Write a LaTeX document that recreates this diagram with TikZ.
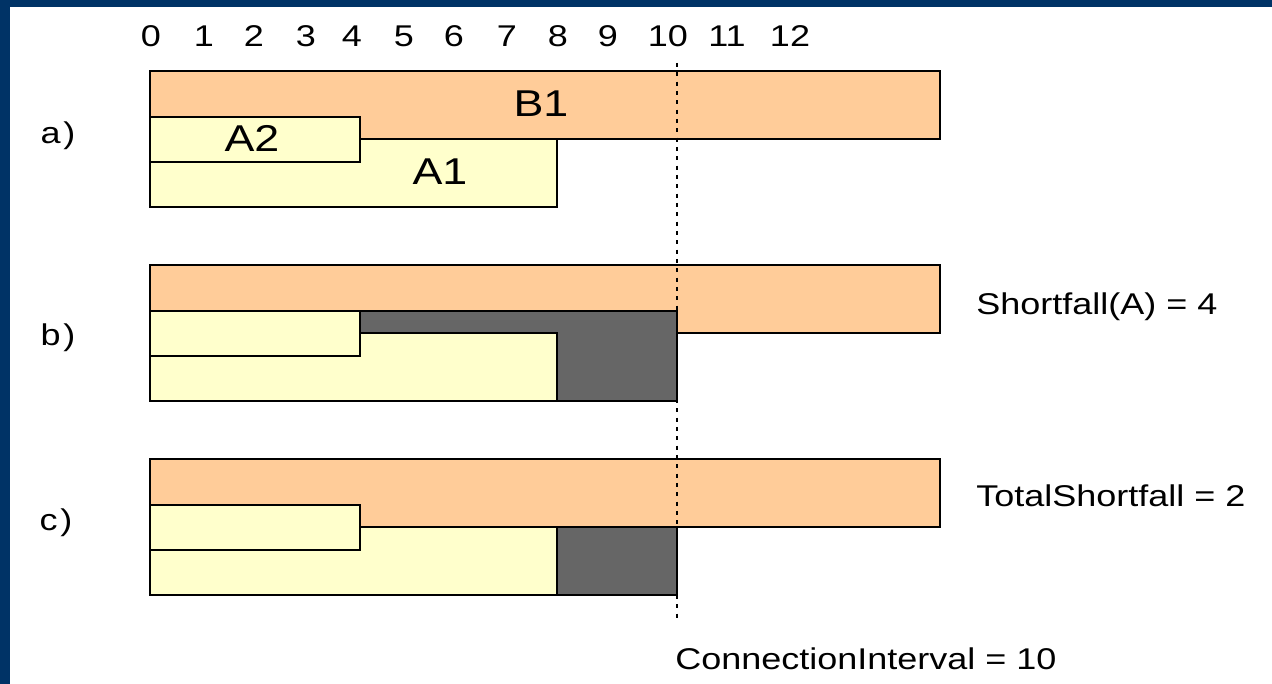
\documentclass[tikz,border=0pt]{standalone}
\usepackage{fontspec}
\setmainfont{Liberation Sans}[FakeStretch=1.2]
\definecolor{navyband}{RGB}{0,51,102}
\definecolor{peachfill}{RGB}{255,204,153}
\definecolor{creamfill}{RGB}{255,255,204}
\definecolor{shortgray}{RGB}{102,102,102}
\begin{document}
\begin{tikzpicture}[x=0.75pt,y=-0.75pt,
  bar/.style={draw=black,line width=1.3pt},
  bbar/.style={bar,fill=peachfill},
  abar/.style={bar,fill=creamfill},
  gbar/.style={bar,fill=shortgray},
  lbl/.style={font=\fontsize{22.5}{27}\selectfont,inner sep=0pt},
  big/.style={font=\fontsize{28}{33}\selectfont,inner sep=0pt},
  interval/.style={line width=1.2pt,dash pattern=on 3pt off 4pt}]
\useasboundingbox (0,0) rectangle (1272,684);
\fill[white] (0,0) rectangle (1272,684);
\fill[navyband] (0,0) rectangle (1272,7);
\fill[navyband] (0,0) rectangle (10,684);

% scale
\foreach \n/\x in {0/151,1/204,2/254,3/306,4/352,5/404,6/454,7/507,8/558,9/608,10/668,11/727,12/790}
  \node[lbl,anchor=base] (t\n) at (\x,47) {\n};

% a)
\draw[bbar] (150,71) rectangle (940,139);
\draw[abar] (150,139) rectangle (557,207);
\draw[abar] (150,117) rectangle (360,162);
% b)
\draw[bbar] (150,265) rectangle (940,333);
\draw[gbar] (360,311) rectangle (677,401);
\draw[abar] (150,333) rectangle (557,401);
\draw[abar] (150,311) rectangle (360,356);
% c)
\draw[bbar] (150,459) rectangle (940,527);
\draw[gbar] (557,527) rectangle (677,595);
\draw[abar] (150,527) rectangle (557,595);
\draw[abar] (150,505) rectangle (360,550);

% connection interval line
\coordinate (ctop) at (677,63);
\coordinate (cbot) at (677,620);
\draw[interval] (ctop) -- (cbot);

% labels
\node[big] (b1) at (541,104) {B1};
\node[big] (a2) at (252,138) {A2};
\node[big] (a1) at (440,172) {A1};
\node[lbl] (la) at (58,136) {a\hspace{2pt})};
\node[lbl] (lb) at (58,338) {b\hspace{2pt})};
\node[lbl] (lc) at (56,523) {c\hspace{2pt})};
\node[lbl,anchor=base west] (sf) at (976,315) {Shortfall(A) = 4};
\node[lbl,anchor=base west] (tsf) at (976,507) {TotalShortfall = 2};
\node[lbl,anchor=base west] (ci) at (675,669) {ConnectionInterval = 10};
\end{tikzpicture}
\end{document}
